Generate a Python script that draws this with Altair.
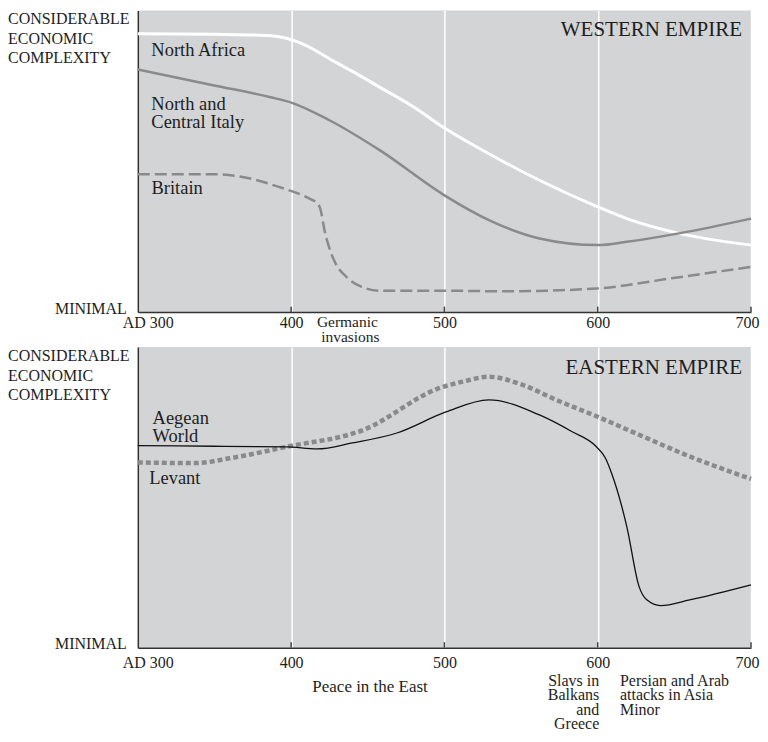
import altair as alt
import pandas as pd

FONT = "Liberation Serif"
BG = "#d3d4d6"
GRAY = "#8a8a8a"
INK = "#1e1e1e"

# ---------------- data (0 = minimal, 100 = considerable) ----
axis_years = [300, 400, 500, 600, 700]
tick_years = [400, 500, 600, 700]

# Western Empire
na_years = [300, 350, 380, 392, 402, 412, 425, 440, 458, 480, 500, 529, 562, 600, 619, 653, 700]
na_vals = [92.3, 92.1, 91.8, 91.3, 90.0, 87.8, 84.0, 79.8, 74.5, 68.0, 61.0, 52.5, 43.7, 34.9, 31.0, 26.1, 22.2]

it_years = [300, 349, 386, 401, 425, 458, 500, 529, 562, 600, 619, 653, 700]
it_vals = [80.4, 75.2, 71.3, 69.3, 63.6, 53.6, 38.7, 30.5, 24.4, 22.2, 23.3, 26.1, 31.0]

br_years = [300, 349, 366, 392, 412, 417, 419, 422, 425, 429, 436, 445, 458, 497, 540, 599, 648, 700]
br_vals = [45.7, 45.7, 45.0, 41.5, 37.6, 36.1, 34.3, 26.6, 21.1, 16.1, 11.7, 8.6, 7.1, 7.1, 6.9, 7.8, 11.2, 15.0]

# Eastern Empire
ae_years = [300, 350, 397, 417, 440, 469, 501, 529, 562, 583, 599, 605, 609, 619, 627, 632, 641, 660, 700]
ae_vals = [67.2, 67.0, 66.8, 66.1, 68.1, 71.4, 78.4, 82.4, 77.4, 71.9, 66.9, 63.1, 58.1, 40.2, 20.3, 15.9, 14.0, 15.9, 20.9]

lv_years = [300, 338, 360, 397, 447, 497, 512, 529, 551, 573, 600, 627, 660, 700]
lv_vals = [61.6, 61.4, 63.0, 66.8, 72.4, 86.4, 88.5, 90.1, 87.4, 82.4, 76.8, 70.8, 63.6, 56.1]

# text annotations (year, value)
west_title = ["WESTERN EMPIRE"]
east_title = ["EASTERN EMPIRE"]
top_scale_label = ["CONSIDERABLE\nECONOMIC\nCOMPLEXITY"]
bottom_scale_label = ["MINIMAL"]

west_line_labels = ["North Africa", "North and\nCentral Italy", "Britain"]
west_line_label_years = [308.8, 308.8, 308.9]
west_line_label_vals = [84.8, 67.0, 39.3]

east_line_labels = ["Aegean\nWorld", "Levant"]
east_line_label_years = [309.6, 307.4]
east_line_label_vals = [74.3, 54.5]

west_events = ["Germanic", "invasions"]
west_event_years = [416.8, 419.6]
west_event_vals = [-4.8, -9.8]

east_events_center = ["Peace in the East"]
east_events_right = ["Slavs in\nBalkans\nand\nGreece"]
east_events_left = ["Persian and Arab\nattacks in Asia\nMinor"]


def df(years, vals, labels=None):
    d = {"year": years, "value": vals}
    if labels is not None:
        d["label"] = labels
    return pd.DataFrame(d)


X_SCALE = alt.Scale(domain=[300, 700], nice=False, zero=False)
Y_SCALE = alt.Scale(domain=[0, 100], nice=False, zero=False)


def x_axis(pad):
    return alt.Axis(
        values=axis_years,
        labelExpr="datum.value == 300 ? 'AD 300' : datum.label",
        grid=True, gridColor="white", gridWidth=1.5,
        ticks=False, domainColor="#333333", domainWidth=1.5,
        labelFont=FONT, labelFontSize=16, labelColor=INK,
        labelFlush=False, labelBaseline="alphabetic", labelPadding=pad,
        labelOffset={"expr": "datum.value == 300 ? 10 : (datum.value == 700 ? -4 : 0)"},
        title=None,
    )


Y_AXIS = alt.Axis(labels=False, ticks=False, grid=False, domainColor="#333333",
                  domainWidth=1.5, title=None)


def tick_layer(pad):
    return alt.Chart(df(tick_years, [0] * len(tick_years))).mark_rule(
        color="#444444", strokeWidth=1.5
    ).encode(
        x=alt.X("year:Q", scale=X_SCALE, axis=x_axis(pad)),
        y=alt.Y("value:Q", scale=Y_SCALE, axis=Y_AXIS),
        y2=alt.datum(1.8),
    )


def line(data, **style):
    return alt.Chart(data).mark_line(interpolate="monotone", **style).encode(
        x="year:Q", y="value:Q"
    )


def text(data, **style):
    base = dict(font=FONT, color=INK, lineBreak="\n")
    base.update(style)
    return alt.Chart(data).mark_text(**base).encode(
        x="year:Q", y="value:Q", text="label:N"
    )


def scale_labels(top_val):
    a = text(df([300], [top_val], top_scale_label), align="left", baseline="alphabetic",
             fontSize=16, dx=-130, lineHeight=19.5)
    b = text(df([300], [-0.6], bottom_scale_label), align="right", baseline="alphabetic",
             fontSize=16, dx=-11)
    return [a, b]


west = alt.layer(
    tick_layer(15),
    line(df(na_years, na_vals), color="white", strokeWidth=3),
    line(df(it_years, it_vals), color=GRAY, strokeWidth=2.5),
    line(df(br_years, br_vals), color=GRAY, strokeWidth=2.5, strokeDash=[12, 5]),
    text(df(west_line_label_years, west_line_label_vals, west_line_labels), align="left",
         baseline="alphabetic", fontSize=18.5, lineHeight=18),
    text(df([694.1], [91.4], west_title), align="right", baseline="alphabetic", fontSize=21),
    text(df(west_event_years, west_event_vals, west_events), align="left",
         baseline="alphabetic", fontSize=15.5),
    *scale_labels(95.4),
).properties(width=614, height=302)

east = alt.layer(
    tick_layer(20),
    line(df(lv_years, lv_vals), color=GRAY, strokeWidth=4.5, strokeDash=[5, 3]),
    line(df(ae_years, ae_vals), color="#111111", strokeWidth=1.3),
    text(df(east_line_label_years, east_line_label_vals, east_line_labels), align="left",
         baseline="alphabetic", fontSize=18.5, lineHeight=18),
    text(df([694.1], [90.9], east_title), align="right", baseline="alphabetic", fontSize=21),
    text(df([451.5], [-14.6], east_events_center), align="center", baseline="alphabetic",
         fontSize=17),
    text(df([601], [-12.6], east_events_right), align="right", baseline="alphabetic",
         fontSize=16, lineHeight=14.6),
    text(df([614.5], [-12.6], east_events_left), align="left", baseline="alphabetic",
         fontSize=16, lineHeight=14.6),
    *scale_labels(95.3),
).properties(width=614, height=301)

chart = alt.vconcat(west, east, spacing=35).properties(
    bounds="flush",
    padding={"left": 0, "top": 2, "right": 0, "bottom": 0},
    background="white",
).configure_view(fill=BG, strokeWidth=0)

chart.save("out.html", embed_options={"renderer": "svg", "actions": False})
